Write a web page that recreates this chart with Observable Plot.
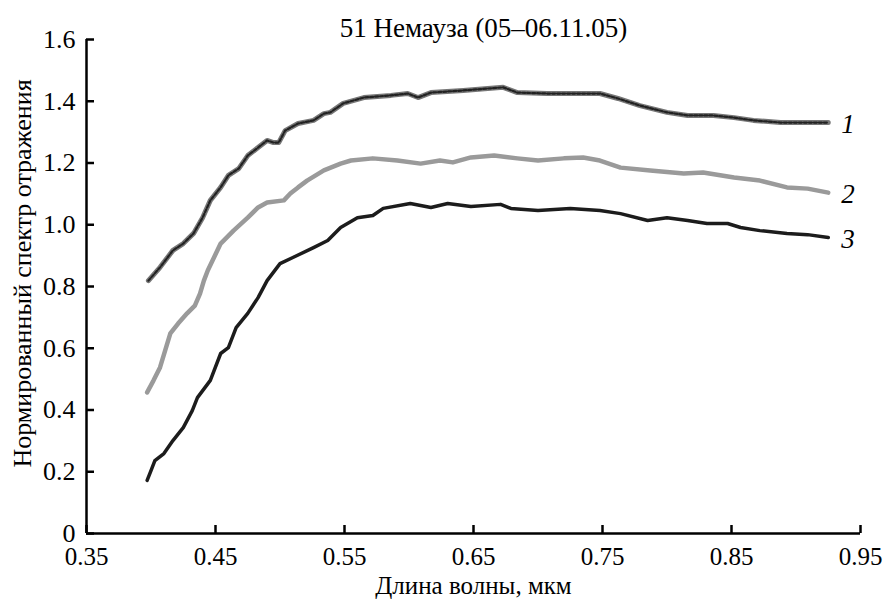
<!DOCTYPE html>
<html>
<head>
<meta charset="utf-8">
<script src="https://cdn.jsdelivr.net/npm/d3@7"></script>
<script src="https://cdn.jsdelivr.net/npm/@observablehq/plot@0.6"></script>
<style>
  html, body { margin: 0; padding: 0; background: #fff; }
  #chart svg { display: block; }
  #chart svg, #chart svg text { font-family: "Liberation Serif", "Times New Roman", serif !important; }
</style>
</head>
<body>
<div id="chart"></div>
<script>
// Wavelength (μm) and normalized reflectance
const x1 = [0.398,0.407,0.417,0.425,0.433,0.440,0.446,0.454,0.460,0.468,0.475,0.483,0.490,0.495,0.499,0.504,0.514,0.526,0.534,0.539,0.549,0.565,0.586,0.599,0.607,0.617,0.642,0.673,0.684,0.707,0.733,0.748,0.762,0.779,0.800,0.816,0.836,0.852,0.867,0.888,0.909,0.925];
const y1 = [0.819,0.862,0.917,0.939,0.972,1.023,1.079,1.121,1.160,1.182,1.224,1.250,1.273,1.266,1.266,1.305,1.328,1.338,1.360,1.364,1.393,1.412,1.419,1.425,1.412,1.428,1.435,1.445,1.428,1.425,1.425,1.425,1.409,1.386,1.364,1.354,1.354,1.347,1.338,1.331,1.331,1.331];

const x2 = [0.397,0.402,0.407,0.411,0.415,0.421,0.428,0.434,0.438,0.441,0.444,0.454,0.464,0.475,0.483,0.490,0.503,0.508,0.514,0.521,0.534,0.547,0.555,0.572,0.591,0.609,0.624,0.634,0.648,0.666,0.684,0.700,0.720,0.735,0.748,0.764,0.787,0.813,0.828,0.852,0.872,0.893,0.909,0.925];
const y2 = [0.457,0.496,0.538,0.593,0.648,0.680,0.713,0.738,0.777,0.819,0.852,0.939,0.981,1.023,1.056,1.072,1.079,1.101,1.121,1.143,1.176,1.198,1.208,1.215,1.208,1.198,1.208,1.202,1.218,1.224,1.215,1.208,1.215,1.218,1.208,1.185,1.176,1.166,1.169,1.153,1.143,1.121,1.117,1.104];

const x3 = [0.397,0.400,0.403,0.410,0.417,0.425,0.432,0.436,0.446,0.454,0.460,0.466,0.475,0.483,0.490,0.500,0.510,0.526,0.537,0.547,0.560,0.572,0.580,0.601,0.617,0.630,0.648,0.671,0.679,0.700,0.725,0.748,0.764,0.785,0.800,0.816,0.831,0.847,0.857,0.872,0.893,0.909,0.925];
const y3 = [0.172,0.204,0.236,0.259,0.301,0.343,0.398,0.440,0.496,0.583,0.602,0.667,0.713,0.764,0.819,0.874,0.894,0.926,0.949,0.991,1.023,1.030,1.053,1.069,1.056,1.069,1.059,1.066,1.053,1.046,1.053,1.046,1.036,1.014,1.023,1.014,1.004,1.004,0.991,0.981,0.972,0.968,0.959];

const seriesLabels = ["1", "2", "3"];
const xTicks = [0.35, 0.45, 0.55, 0.65, 0.75, 0.85, 0.95];
const yTicks = [0, 0.2, 0.4, 0.6, 0.8, 1.0, 1.2, 1.4, 1.6];
const titleText = "51 Немауза (05–06.11.05)";
const xLabel = "Длина волны, мкм";
const yLabel = "Нормированный спектр отражения";

const toRows = (xs, ys) => xs.map((x, i) => ({x, y: ys[i]}));
const s1 = toRows(x1, y1), s2 = toRows(x2, y2), s3 = toRows(x3, y3);
const ends = [s1, s2, s3].map((s, i) => ({...s[s.length - 1], label: seriesLabels[i]}));

const chart = Plot.plot({
  width: 885,
  height: 599,
  marginLeft: 86,
  marginRight: 25,
  marginTop: 39,
  marginBottom: 66,
  style: {fontSize: "24px", color: "#000", background: "#fff"},
  x: {domain: [0.35, 0.95]},
  y: {domain: [0, 1.6]},
  marks: [
    Plot.axisX(xTicks, {tickSize: -8, tickPadding: 22, strokeWidth: 2.5, tickFormat: d => d.toFixed(2), label: null, fontSize: 25}),
    Plot.axisY(yTicks, {tickSize: -8, tickPadding: 19, strokeWidth: 2.5, tickFormat: d => d === 0 ? "0" : d.toFixed(1), label: null, fontSize: 26}),
    Plot.ruleX([0.35], {y1: 0, y2: 1.6, strokeWidth: 2.5}),
    Plot.ruleY([0], {x1: 0.35, x2: 0.95, strokeWidth: 2.5}),
    Plot.line(s1, {x: "x", y: "y", stroke: "#777", strokeWidth: 5, strokeLinejoin: "round", strokeLinecap: "round"}),
    Plot.line(s1, {x: "x", y: "y", stroke: "#222", strokeWidth: 2.2, strokeDasharray: "3,2", strokeLinejoin: "round"}),
    Plot.line(s2, {x: "x", y: "y", stroke: "#9a9a9a", strokeWidth: 4.5, strokeLinejoin: "round", strokeLinecap: "round"}),
    Plot.line(s3, {x: "x", y: "y", stroke: "#1c1c1c", strokeWidth: 3.5, strokeLinejoin: "round", strokeLinecap: "round"}),
    Plot.text(ends, {x: "x", y: "y", text: "label", dx: 13, dy: 2, textAnchor: "start", fontStyle: "italic", fontSize: 27}),
    Plot.text([titleText], {frameAnchor: "top", textAnchor: "middle", lineAnchor: "middle", dx: 10, dy: -11, fontSize: 27}),
    Plot.text([xLabel], {frameAnchor: "bottom", textAnchor: "middle", lineAnchor: "middle", dy: 52, fontSize: 25}),
    Plot.text([yLabel], {frameAnchor: "left", textAnchor: "middle", lineAnchor: "middle", dx: -64, dy: -13, rotate: -90, fontSize: 26})
  ]
});
document.getElementById("chart").appendChild(chart);
</script>
</body>
</html>
